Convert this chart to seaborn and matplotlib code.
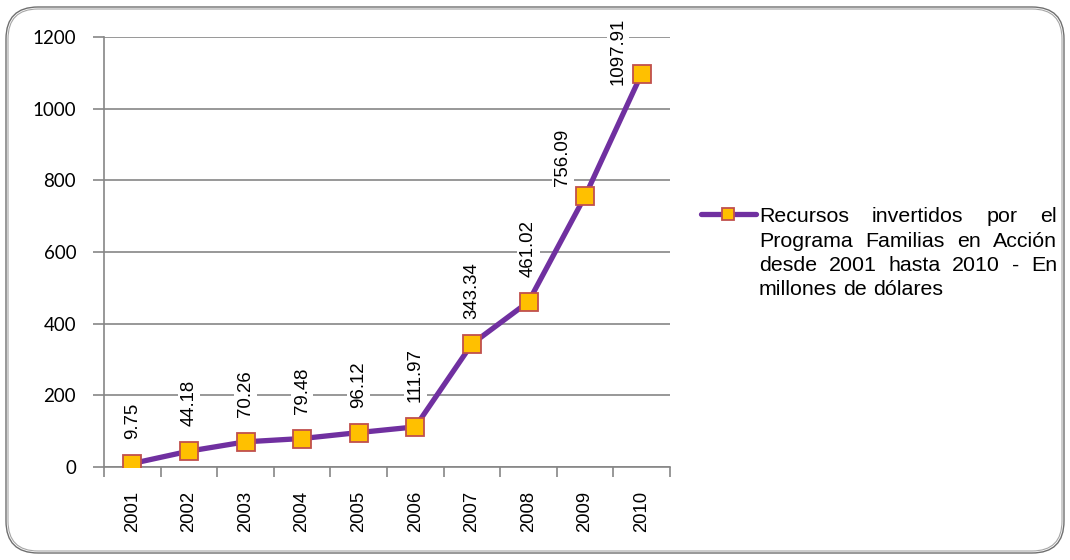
import os
import numpy as np
import matplotlib
matplotlib.use("Agg")
import matplotlib.pyplot as plt
import seaborn as sns
from matplotlib import font_manager as fm
from matplotlib.patches import FancyBboxPatch
from matplotlib.lines import Line2D

years = ["2001", "2002", "2003", "2004", "2005", "2006", "2007", "2008", "2009", "2010"]
values = [9.75, 44.18, 70.26, 79.48, 96.12, 111.97, 343.34, 461.02, 756.09, 1097.91]
labels = ["9.75", "44.18", "70.26", "79.48", "96.12", "111.97", "343.34", "461.02", "756.09", "1097.91"]
yticks = [0, 200, 400, 600, 800, 1000, 1200]
legend_lines = [["Recursos", "invertidos", "por", "el"],
                ["Programa", "Familias", "en", "Acción"],
                ["desde", "2001", "hasta", "2010", "-", "En"],
                ["millones", "de", "dólares"]]

sns.set_theme(style="white")
plt.rcParams['font.family'] = ['Liberation Sans', 'DejaVu Sans']


def fp(size):
    return fm.FontProperties(family=["Liberation Sans", "DejaVu Sans"], size=size)


W, H = 1070, 560
fig = plt.figure(figsize=(W / 100, H / 100), dpi=100)
ax = fig.add_axes([104 / W, 1 - 467 / H, (670 - 104) / W, (467 - 37) / H])

grid_c = "#868686"
purple = "#7030A0"
xs = np.arange(len(years))
sns.lineplot(x=xs, y=values, ax=ax, color=purple, linewidth=3.8, marker="s",
             markersize=13.5, markerfacecolor="#FFC000", markeredgecolor="#C0504D",
             markeredgewidth=1.3, zorder=5)

ax.set_xlim(-0.5, len(years) - 0.5)
ax.set_ylim(0, 1200)
ax.set_yticks(yticks)
ax.set_yticklabels([str(t) for t in yticks], fontsize=13.5, color="black", family=["Lato", "DejaVu Sans"])
ax.yaxis.grid(True, color=grid_c, linewidth=1.2)
ax.set_axisbelow(True)
ax.set_xticks(xs)
ax.set_xticklabels(years, rotation=90, color="black", fontproperties=fp(13.3))
ax.set_xticks(np.arange(-0.5, len(years), 1), minor=True)
ax.tick_params(axis="x", which="major", length=0, pad=17)
ax.tick_params(axis="x", which="minor", length=7, color=grid_c, width=1.2, bottom=True)
ax.tick_params(axis="y", length=8, color=grid_c, width=1.2, left=True, pad=12)
for s in ["top", "right"]:
    ax.spines[s].set_visible(False)
for s in ["left", "bottom"]:
    ax.spines[s].set_color(grid_c)
    ax.spines[s].set_linewidth(1.2)
ax.set_xlabel("")
ax.set_ylabel("")

for i, (v, lab) in enumerate(zip(values, labels)):
    if i == len(values) - 1:
        off = (-17, -8)
    elif i == len(values) - 2:
        off = (-16, 7)
    else:
        off = (0, 18)
    ax.annotate(lab, (xs[i], v), xytext=off, textcoords="offset points",
                rotation=90, ha="center", va="bottom", fontproperties=fp(13.4),
                color="black", zorder=4,
                bbox=dict(boxstyle="square,pad=0.15", fc="white", ec="none"))

# rounded double border
border = FancyBboxPatch((0.06, 0.07), W / 100 - 0.12, H / 100 - 0.14,
                        boxstyle="round,pad=0,rounding_size=0.32",
                        transform=fig.dpi_scale_trans, fc="none", ec="#6f6f6f",
                        lw=1.0, zorder=0)
fig.patches.append(border)
border2 = FancyBboxPatch((0.08, 0.09), W / 100 - 0.16, H / 100 - 0.18,
                         boxstyle="round,pad=0,rounding_size=0.30",
                         transform=fig.dpi_scale_trans, fc="none", ec="#a6a6a6",
                         lw=0.8, zorder=0)
fig.patches.append(border2)

# legend (justified text)
ly = 1 - 214 / H
fig.add_artist(Line2D([701 / W, 756 / W], [ly, ly], color=purple, lw=3.8,
                      solid_capstyle="round", transform=fig.transFigure))
fig.add_artist(Line2D([728 / W], [ly], marker="s", markersize=8.5, markerfacecolor="#FFC000",
                      markeredgecolor="#C0504D", markeredgewidth=1.3, linestyle="none",
                      transform=fig.transFigure))
left_px, right_px = 759, 1057
all_texts = []
for li, words in enumerate(legend_lines):
    ypx = 215 + li * 24.3
    yfig = 1 - ypx / H
    texts = [fig.text(0, yfig, w, fontproperties=fp(15.4), va="center_baseline", ha="left",
                      color="black") for w in words]
    all_texts.append(texts)
fig.canvas.draw()
renderer = fig.canvas.get_renderer()
for li, texts in enumerate(all_texts):
    widths = [t.get_window_extent(renderer).width for t in texts]
    if li == len(all_texts) - 1:
        gap = renderer.get_text_width_height_descent(" ", texts[0].get_fontproperties(), False)[0]
    else:
        gap = (right_px - left_px - sum(widths)) / (len(texts) - 1)
    x = left_px
    for t, w in zip(texts, widths):
        t.set_x(x / W)
        x += w + gap

fig.savefig("out.png", dpi=100)
